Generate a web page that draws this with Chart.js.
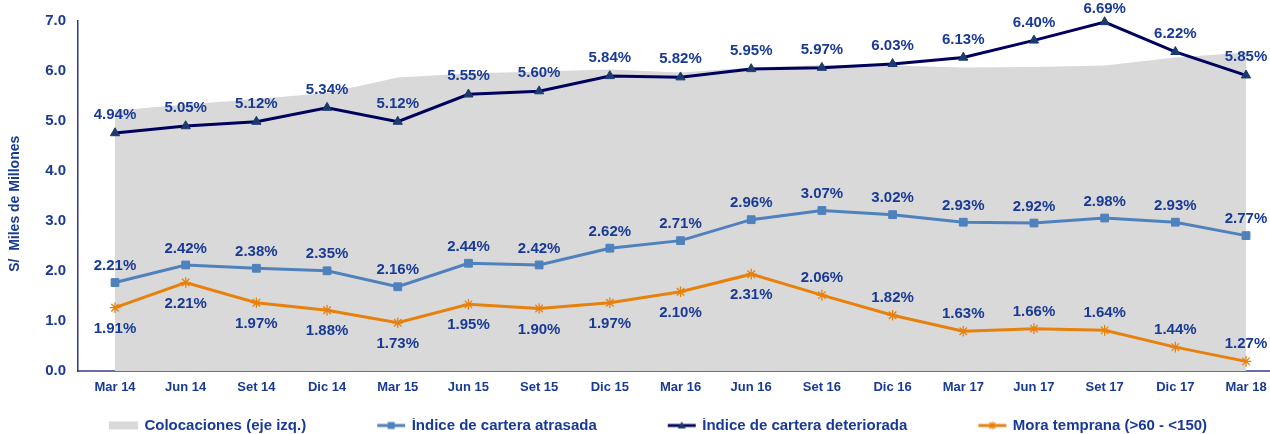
<!DOCTYPE html>
<html><head><meta charset="utf-8">
<script src="https://cdn.jsdelivr.net/npm/chart.js@4/dist/chart.umd.min.js"></script>
<style>html,body{margin:0;padding:0;background:#fff;overflow:hidden}</style>
</head><body><canvas id="c" width="1270" height="434"></canvas>
<script>
const categories = ['Mar 14','Jun 14','Set 14','Dic 14','Mar 15','Jun 15','Set 15','Dic 15','Mar 16','Jun 16','Set 16','Dic 16','Mar 17','Jun 17','Set 17','Dic 17','Mar 18'];
const colocaciones = [5.21,5.33,5.44,5.56,5.87,5.95,5.99,6.03,5.97,6.07,6.12,6.11,6.07,6.08,6.11,6.27,6.37];
const carteraAtrasada = [2.21,2.42,2.38,2.35,2.16,2.44,2.42,2.62,2.71,2.96,3.07,3.02,2.93,2.92,2.98,2.93,2.77];
const carteraDeteriorada = [4.94,5.05,5.12,5.34,5.12,5.55,5.60,5.84,5.82,5.95,5.97,6.03,6.13,6.40,6.69,6.22,5.85];
const moraTemprana = [1.91,2.21,1.97,1.88,1.73,1.95,1.90,1.97,2.10,2.31,2.06,1.82,1.63,1.66,1.64,1.44,1.27];
const yTicks = [0,1,2,3,4,5,6,7];
const seriesNames = ['Colocaciones (eje izq.)','Índice de cartera atrasada','Índice de cartera deteriorada','Mora temprana (>60 - <150)'];

const FONT = "'Liberation Sans', Arial, sans-serif";
const TEXT = '#183A94';
const C_GRAY = '#D9D9D9', C_ATR = '#4F81BD', C_DET = '#00005E', C_DET_PT = '#1B3A6E', C_MORA = '#E8800C';
const X_MIN = -0.5234, X_MAX = 16.339;

const toXY = arr => arr.map((v, i) => ({x: i, y: v}));

// legend symbols
const BW = 98;
function drawMarker(g, kind, cx, cy) {
  if (kind === 'rect') { g.fillStyle = C_ATR; g.fillRect(cx - 3.5, cy - 3.5, 7, 7); }
  else if (kind === 'triangle') {
    g.fillStyle = C_DET_PT; g.beginPath(); g.moveTo(cx, cy - 4); g.lineTo(cx + 4, cy + 3); g.lineTo(cx - 4, cy + 3); g.closePath(); g.fill();
  } else if (kind === 'star') {
    g.strokeStyle = C_MORA; g.lineWidth = 1.3; g.beginPath();
    g.moveTo(cx - 4, cy); g.lineTo(cx + 4, cy); g.moveTo(cx, cy - 4); g.lineTo(cx, cy + 4);
    g.moveTo(cx - 3, cy - 3); g.lineTo(cx + 3, cy + 3); g.moveTo(cx - 3, cy + 3); g.lineTo(cx + 3, cy - 3); g.stroke();
  }
}
function makeSym(kind, color, marker) {
  const W = BW + 8, H = 14;
  const c = document.createElement('canvas'); c.width = W; c.height = H;
  const g = c.getContext('2d');
  const x0 = W - 31, x1 = W - 3;
  if (kind === 'box') { g.fillStyle = C_GRAY; g.fillRect(x0 - 1, 3, 29, 8); }
  else {
    g.strokeStyle = color; g.lineWidth = 3; g.beginPath(); g.moveTo(x0, 7); g.lineTo(x1, 7); g.stroke();
    drawMarker(g, marker, (x0 + x1) / 2, 7);
  }
  return c;
}

const pctLabels = {
  id: 'pctLabels',
  afterDatasetsDraw(chart) {
    const ctx = chart.ctx;
    ctx.save();
    ctx.font = 'bold 15px ' + FONT;
    ctx.fillStyle = TEXT; ctx.textAlign = 'center'; ctx.textBaseline = 'middle';
    chart.data.datasets.forEach((ds, di) => {
      if (!ds.pctOffset) return;
      const meta = chart.getDatasetMeta(di);
      meta.data.forEach((pt, i) => {
        const y = Math.max(9, pt.y + ds.pctOffset(i));
        ctx.fillText(ds.data[i].y.toFixed(2) + '%', pt.x, y);
      });
    });
    ctx.restore();
  }
};
const legendShift = {
  id: 'legendShift',
  afterLayout(chart) {
    const lg = chart.legend;
    lg.top += 9; lg.bottom += 9;
    lg.left -= 12; lg.right -= 12;
  }
};

new Chart(document.getElementById('c'), {
  type: 'line',
  data: {
    datasets: [
      { label: seriesNames[0], data: toXY(colocaciones), yAxisID: 'y', fill: 'origin', backgroundColor: C_GRAY,
        borderWidth: 0, borderColor: C_GRAY, pointRadius: 0, tension: 0, order: 10, legendSymbol: makeSym('box') },
      { label: seriesNames[1], data: toXY(carteraAtrasada), yAxisID: 'yA', borderColor: C_ATR, borderWidth: 3,
        pointStyle: 'rect', pointRadius: 5.5, pointBackgroundColor: C_ATR, pointBorderColor: C_ATR, pointBorderWidth: 1,
        tension: 0, fill: false, order: 1, clip: false, legendSymbol: makeSym('line', C_ATR, 'rect'),
        pctOffset: i => -16.5 },
      { label: seriesNames[2], data: toXY(carteraDeteriorada), yAxisID: 'yD', borderColor: C_DET, borderWidth: 3,
        pointStyle: 'triangle', pointRadius: 5.3, pointBackgroundColor: C_DET_PT, pointBorderColor: C_DET_PT, pointBorderWidth: 1,
        tension: 0, fill: false, order: 0, clip: false, legendSymbol: makeSym('line', C_DET, 'triangle'),
        pctOffset: i => -18 },
      { label: seriesNames[3], data: toXY(moraTemprana), yAxisID: 'yA', borderColor: C_MORA, borderWidth: 3,
        pointStyle: 'star', pointRadius: 5.3, pointBorderColor: C_MORA, pointBackgroundColor: C_MORA, pointBorderWidth: 1.3,
        tension: 0, fill: false, order: 2, clip: false, legendSymbol: makeSym('line', C_MORA, 'star'),
        pctOffset: i => (i >= 10 ? -17 : 21) }
    ]
  },
  options: {
    responsive: false, animation: false, events: [],
    layout: { autoPadding: false, padding: { top: 18, left: 0, right: 0, bottom: 0 } },
    scales: {
      x: {
        type: 'linear', min: X_MIN, max: X_MAX, bounds: 'data',
        grid: { display: false, drawTicks: false },
        border: { display: true, color: '#6B6BA8', width: 2 },
        ticks: { padding: 0, includeBounds: false, color: TEXT, font: { family: FONT, size: 13, weight: 'bold', lineHeight: 2.55 }, autoSkip: false, maxRotation: 0,
          callback: v => (categories[v] !== undefined ? categories[v] : '') },
        afterBuildTicks: s => { s.ticks = categories.map((c, i) => ({ value: i })); s.min = X_MIN; s.max = X_MAX; },
        afterFit: s => { s.height = 38; s.paddingLeft = 0; s.paddingRight = 0; }
      },
      y: {
        position: 'left', min: 0, max: 7,
        grid: { display: false, drawTicks: false },
        border: { display: true, color: '#33338A', width: 1.5 },
        ticks: { padding: 12, color: TEXT, font: { family: FONT, size: 15, weight: 'bold' }, callback: v => Number(v).toFixed(1) },
        afterBuildTicks: s => { s.ticks = yTicks.map(v => ({ value: v })); },
        title: { display: true, text: 'S/  Miles de Millones    ', color: TEXT, font: { family: FONT, size: 14, weight: 'bold' }, padding: { top: 7, bottom: 0 } },
        afterFit: s => { s.width = 78; }
      },
      yA: { display: false, min: 1.155, max: 5.33 },
      yD: { display: false, min: 1.19, max: 6.706 }
    },
    plugins: {
      tooltip: { enabled: false },
      legend: {
        position: 'bottom',
        labels: {
          usePointStyle: true, pointStyleWidth: BW, padding: 0,
          font: { family: FONT, size: 15, weight: 'bold' }, color: TEXT,
          generateLabels: chart => chart.data.datasets.map((ds, i) => ({
            text: ds.label, pointStyle: ds.legendSymbol, fontColor: TEXT, datasetIndex: i, hidden: false,
            lineWidth: 0, strokeStyle: 'rgba(0,0,0,0)', fillStyle: 'rgba(0,0,0,0)'
          }))
        }
      }
    }
  },
  plugins: [pctLabels, legendShift]
});
</script>
</body></html>
